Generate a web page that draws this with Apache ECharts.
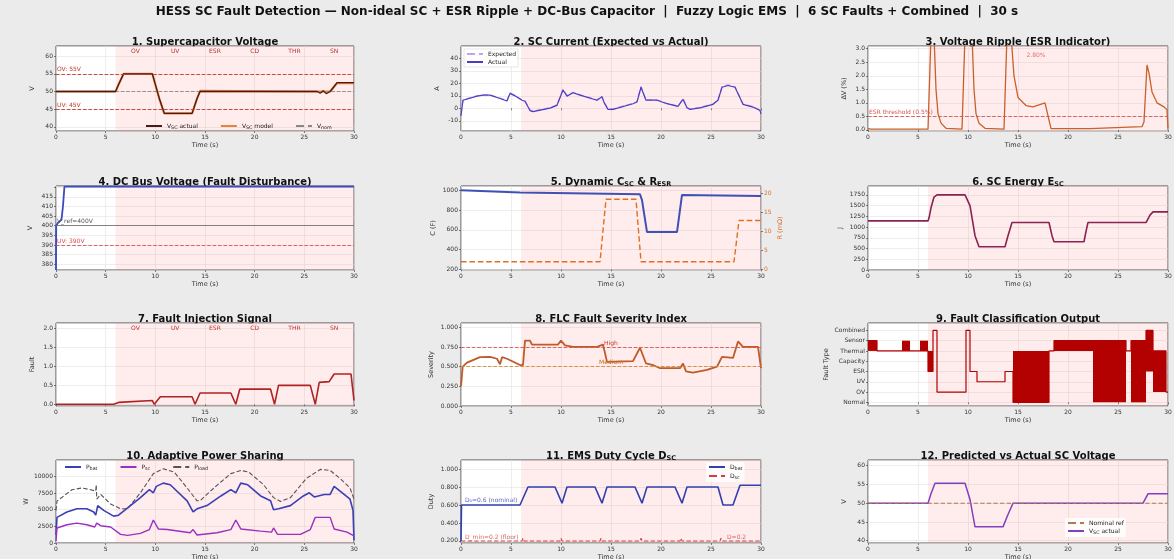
<!DOCTYPE html>
<html>
<head>
<meta charset="utf-8">
<script src="https://cdn.jsdelivr.net/npm/echarts@6/dist/echarts.min.js"></script>
<style>
html, body { margin: 0; background: #ebebeb; }
#chart { width: 1174px; height: 559px; }
</style>
</head>
<body>
<div id="chart"></div>
<script>
// ---- shared
const faultStart = 6
const tEnd = 30
const faultTimes = [8, 12, 16, 20, 24, 28]
const faultNames = ['OV', 'UV', 'ESR', 'CD', 'THR', 'SN']

// ---- 1. SC voltage
const t1 = [0, 6, 6.3, 6.8, 9.7, 10.4, 10.9, 13.7, 14.2, 14.5, 26.3, 26.6, 26.9, 27.2, 27.6, 28.3, 30]
const v1Actual = [50, 50, 52, 55, 55, 48, 43.8, 43.8, 48, 50, 50, 49.5, 50.2, 49.4, 50, 52.5, 52.5]
const v1Model = [50, 50, 52, 55, 55, 48, 43.8, 43.8, 48, 50.2, 50, 50, 50, 50, 50, 52.4, 52.4]
const vNom = 50, vOV = 55, vUV = 45

// ---- 2. SC current
const t2 = [0, 0.2, 1.6, 2.2, 2.9, 3.9, 4.6, 4.9, 5.4, 6.1, 6.4, 6.9, 7.2, 8.9, 9.6, 10.2, 10.6, 11.2, 11.9, 13.6, 14.1, 14.3, 14.7, 15.2, 17.2, 17.6, 18.0, 18.5, 19.6, 20.6, 21.7, 22.2, 22.6, 22.9, 23.9, 25.2, 25.7, 26.1, 26.7, 27.4, 28.2, 29.2, 29.9, 30]
const i2Actual = [-6, 6.5, 9.8, 10.6, 10.6, 7.9, 5.9, 12, 10, 6.5, 5.7, -1.8, -2.6, 0.2, 2.4, 14.7, 9.8, 12.5, 10.6, 6.5, 9.2, 4.8, -0.9, -0.9, 3.7, 5.1, 16.9, 6.5, 6.5, 3.7, 1.5, 7.3, 0.4, -0.9, 0.4, 3.2, 6.5, 16.9, 18.3, 16.9, 3.2, 1, -1.8, -4.5]
const i2Expected = [-4, 6.8, 10, 10.8, 10.8, 8.2, 6.2, 12.4, 10.3, 6.8, 6, -1.5, -2.2, 0.5, 2.7, 15.2, 10.2, 12.8, 10.9, 6.8, 9.6, 5.1, -0.6, -0.6, 4, 5.4, 17.5, 6.8, 6.8, 4, 1.8, 7.7, 0.7, -0.6, 0.7, 3.5, 6.8, 17.4, 18.8, 17.4, 3.5, 1.3, -1.5, -4]

// ---- 3. voltage ripple
const t3 = [0, 0.1, 0.3, 6.0, 6.1, 6.3, 6.6, 6.8, 7.0, 7.3, 7.8, 9.4, 9.5, 9.7, 10.4, 10.6, 10.8, 11.1, 11.7, 13.6, 13.7, 13.9, 14.3, 14.6, 15.0, 15.8, 16.5, 17.7, 18.3, 22.2, 22.4, 27.4, 27.6, 27.9, 28.1, 28.4, 28.9, 29.6, 29.9, 30]
const r3 = [0.05, 0.08, 0.03, 0.03, 0.05, 3.5, 3.5, 1.5, 0.6, 0.25, 0.06, 0.03, 0.05, 3.5, 3.5, 1.5, 0.6, 0.25, 0.06, 0.03, 0.05, 3.5, 3.5, 2.0, 1.2, 0.9, 0.85, 1.0, 0.05, 0.05, 0.12, 0.12, 0.3, 2.4, 2.1, 1.4, 1.0, 0.85, 0.75, 0.05]
const esrThreshold = 0.5
const p3NoteT = [16.8], p3NoteV = [2.75], p3NoteText = ['2.80%']

// ---- 4. DC bus
const t4 = [0, 0.02, 0.2, 0.4, 0.55, 0.7, 0.85, 30]
const v4 = [377, 400, 401.5, 402, 403, 410, 420.3, 420.3]
const busNom = 400, busUV = 390

// ---- 5. C and R
const t5C = [0, 5.9, 17.9, 18.1, 18.6, 21.6, 22.1, 30]
const c5 = [1000, 977, 960, 900, 577, 577, 953, 943]
const t5R = [0, 13.9, 14.5, 17.5, 18.0, 27.3, 27.8, 30]
const r5 = [2.0, 2.0, 18.5, 18.5, 2.0, 2.0, 12.9, 12.9]

// ---- 6. energy
const t6 = [0, 6.0, 6.1, 6.3, 6.6, 6.9, 9.7, 10.2, 10.7, 11.1, 13.7, 14.0, 14.4, 18.1, 18.4, 18.6, 21.6, 21.8, 22.0, 27.8, 28.2, 28.5, 30]
const e6 = [1145, 1145, 1210, 1450, 1700, 1750, 1750, 1500, 800, 542, 542, 800, 1107, 1107, 800, 658, 658, 900, 1107, 1107, 1280, 1355, 1355]

// ---- 7. fault injection
const t7 = [0, 5.8, 6.3, 6.5, 9.7, 9.9, 10.5, 13.7, 14.0, 14.5, 17.6, 18.1, 18.5, 21.6, 22.0, 22.4, 25.6, 26.1, 26.5, 27.5, 28.0, 29.7, 30]
const f7 = [0, 0, 0.05, 0.1, 0.1, 0, 0.2, 0.2, 0, 0.3, 0.3, 0, 0.4, 0.4, 0, 0.5, 0.5, 0, 0.58, 0.6, 0.8, 0.8, 0.1]

// ---- 8. FLC severity
const t8 = [0, 0.17, 0.6, 1.9, 2.9, 3.6, 3.9, 4.1, 4.6, 5.9, 6.2, 6.4, 6.9, 7.1, 9.7, 10.0, 10.4, 11.2, 13.6, 14.2, 14.6, 17.2, 17.9, 18.5, 19.2, 19.9, 21.9, 22.2, 22.5, 23.2, 24.6, 25.6, 26.1, 27.2, 27.7, 28.2, 29.7, 30]
const s8 = [0.25, 0.5, 0.55, 0.62, 0.625, 0.6, 0.53, 0.62, 0.6, 0.52, 0.52, 0.83, 0.83, 0.78, 0.78, 0.83, 0.77, 0.75, 0.75, 0.78, 0.56, 0.57, 0.74, 0.54, 0.52, 0.48, 0.48, 0.54, 0.44, 0.425, 0.46, 0.5, 0.625, 0.61, 0.82, 0.75, 0.75, 0.48]
const sevHigh = 0.75, sevMed = 0.5

// ---- 9. classification
const classNames = ['Normal', 'OV', 'UV', 'ESR', 'Capacity', 'Thermal', 'Sensor', 'Combined']
const clsTime = [0, 0.9, 6.0, 6.5, 6.9, 9.8, 10.2, 10.9, 13.7, 14.5, 18.1, 18.6, 25.8, 26.3, 27.8, 28.5, 29.8, 30]
const clsCode = [6, 5, 3, 7, 1, 7, 3, 2, 3, 0, 5, 6, 5, 6, 7, 5, 1, 1]
const blkStart = [0, 3.4, 5.2, 6.0, 14.5, 18.6, 22.5, 26.3, 27.8, 28.5]
const blkEnd = [0.9, 4.2, 6.0, 6.5, 18.1, 25.8, 25.8, 27.8, 28.5, 29.8]
const blkLow = [5, 5, 5, 3, 0, 5, 0, 0, 3, 1]
const blkHigh = [6, 6, 6, 5, 5, 6, 5, 6, 7, 5]

// ---- 10. power sharing
const t10b = [0, 0.1, 1.1, 2.1, 3.1, 3.8, 4.0, 4.2, 4.8, 5.8, 6.3, 8.5, 9.4, 9.8, 10.1, 10.8, 11.5, 13.2, 13.8, 14.2, 15.2, 16.6, 17.6, 18.1, 18.6, 19.3, 20.6, 21.6, 21.9, 22.4, 23.6, 24.9, 25.5, 26.0, 27.0, 27.6, 28.0, 28.6, 29.6, 29.9, 30]
const pBat = [1200, 3850, 4660, 5140, 5140, 4660, 4180, 5620, 4900, 4040, 4180, 6830, 8030, 7550, 8510, 9000, 8750, 6340, 4660, 5140, 5620, 7070, 8030, 7550, 9000, 8750, 7070, 6340, 5000, 5140, 5620, 7070, 7550, 6920, 7300, 7300, 8510, 7790, 6580, 4900, 400]
const t10s = [0, 0.1, 1.1, 2.1, 3.1, 3.9, 4.1, 4.5, 5.5, 6.5, 7.2, 8.5, 9.4, 9.8, 10.3, 11.2, 13.5, 13.8, 14.2, 16.2, 17.6, 18.1, 18.6, 20.6, 21.7, 21.9, 22.3, 24.6, 25.6, 26.1, 27.6, 28.0, 29.3, 30]
const pSc = [300, 2260, 2740, 2980, 2740, 2400, 2980, 2600, 2400, 1300, 1150, 1440, 2020, 3460, 2110, 2020, 1540, 2020, 1200, 1540, 2020, 3460, 2110, 1780, 1630, 2260, 1300, 1300, 2020, 3850, 3850, 2110, 1630, 1060]
const t10l = [0, 0.1, 1.6, 2.6, 3.5, 4.0, 4.05, 4.1, 4.5, 5.5, 6.5, 7.2, 8.5, 9.8, 10.8, 11.9, 13.2, 14.2, 14.5, 15.9, 17.6, 18.6, 19.4, 20.9, 21.9, 22.6, 23.6, 25.2, 26.6, 27.6, 28.6, 29.6, 30]
const pLoad = [4900, 6300, 8000, 8270, 8000, 7800, 8750, 6600, 7300, 5860, 5140, 5140, 7550, 10430, 11150, 10670, 8270, 6340, 6340, 8270, 10430, 10900, 10670, 8750, 6820, 6250, 6820, 9700, 11060, 10900, 9700, 8270, 6580]

// ---- 11. duty cycle
const t11b = [0, 0.05, 5.9, 6.7, 9.4, 10.1, 10.6, 13.4, 14.1, 14.6, 17.4, 18.1, 18.6, 21.4, 22.1, 22.6, 25.7, 26.2, 27.2, 27.9, 30]
const dBat = [0.2, 0.6, 0.6, 0.8, 0.8, 0.62, 0.8, 0.8, 0.62, 0.8, 0.8, 0.62, 0.8, 0.8, 0.62, 0.8, 0.8, 0.6, 0.6, 0.82, 0.82]
const t11s = [0, 6.1, 6.2, 6.3, 9.9, 10.0, 10.1, 13.9, 14.0, 14.1, 17.9, 18.0, 18.1, 21.9, 22.0, 22.1, 25.9, 26.0, 26.1, 30]
const dSc = [0.2, 0.2, 0.23, 0.2, 0.2, 0.23, 0.2, 0.2, 0.23, 0.2, 0.2, 0.23, 0.2, 0.2, 0.23, 0.2, 0.2, 0.23, 0.2, 0.2]
const p11BatNoteT = [0.4], p11BatNoteV = [0.645], p11BatNote = ['D\u2080=0.6 (nominal)']
const p11ScNoteT = [0.4, 26.6], p11ScNoteV = [0.235, 0.235], p11ScNote = ['D_min=0.2 (floor)', 'D=0.2']

// ---- 12. predicted vs actual
const t12 = [0, 6.0, 6.3, 6.7, 9.7, 10.2, 10.7, 13.5, 14.0, 14.5, 27.5, 27.8, 28.0, 30]
const v12 = [50, 50, 52.5, 55.3, 55.3, 51, 43.7, 43.7, 47, 50, 50, 51.5, 52.5, 52.5]

const titles = [
  '1. Supercapacitor Voltage',
  '2. SC Current (Expected vs Actual)',
  '3. Voltage Ripple (ESR Indicator)',
  '4. DC Bus Voltage (Fault Disturbance)',
  '5. Dynamic C{s|SC} & R{s|ESR}',
  '6. SC Energy E{s|SC}',
  '7. Fault Injection Signal',
  '8. FLC Fault Severity Index',
  '9. Fault Classification Output',
  '10. Adaptive Power Sharing',
  '11. EMS Duty Cycle D{s|SC}',
  '12. Predicted vs Actual SC Voltage'
]

// ---- layout
const FONT = 'DejaVu Sans'
const colsL = [56, 461, 868], colsW = [298, 300, 300]
const rowsT = [46, 186, 323, 460], rowsH = [85, 84, 83, 83]
const PINK = 'rgba(255, 110, 110, 0.13)'

const zip = (xs, ys) => xs.map((x, i) => [x, ys[i]])
const subFmt = n => n.replace(/_(\w+)/, '{s|$1}')
const rich = { s: { fontSize: 4.8, verticalAlign: 'bottom', padding: [3, 0, 0, 0], fontFamily: FONT } }

const grids = [], xAxes = [], yAxes = [], series = [], graphics = []

for (let i = 0; i < 12; i++) {
  const r = Math.floor(i / 3), c = i % 3
  grids.push({
    left: colsL[c], top: rowsT[r], width: colsW[c], height: rowsH[r],
    show: true, backgroundColor: '#fff', borderColor: '#222', borderWidth: 0.8,
    containLabel: false, outerBoundsMode: 'none'
  })
  xAxes.push({
    type: 'value', gridIndex: i, min: 0, max: tEnd, interval: 5,
    name: 'Time (s)', nameLocation: 'middle', nameGap: 11,
    nameTextStyle: { fontSize: 6.5, color: '#333', fontFamily: FONT },
    axisLine: { show: false },
    axisTick: { length: 2, lineStyle: { color: '#333', width: 0.6 } },
    axisLabel: { fontSize: 6, color: '#333', margin: 3, fontFamily: FONT },
    splitLine: { lineStyle: { color: '#e2e2e2', width: 0.6 } }
  })
  graphics.push({
    type: 'text', x: colsL[c] + colsW[c] / 2, y: rowsT[r] - 4,
    style: {
      text: titles[i], textAlign: 'center', textVerticalAlign: 'middle',
      font: 'bold 10px "DejaVu Sans"', fill: '#111',
      rich: { s: { font: 'bold 6.5px "DejaVu Sans"', verticalAlign: 'bottom', padding: [4, 0, 0, 0] } }
    }
  })
}

function yAx(i, o, lab) {
  return Object.assign({
    type: 'value', gridIndex: i, nameLocation: 'middle', nameGap: 20,
    nameTextStyle: { fontSize: 6.5, color: '#333', fontFamily: FONT },
    axisLine: { show: false },
    axisTick: { length: 2, lineStyle: { color: '#333', width: 0.6 } },
    axisLabel: Object.assign({ fontSize: 6, color: '#333', margin: 3, fontFamily: FONT, showMinLabel: false, showMaxLabel: false, formatter: v => String(v) }, lab || {}),
    splitLine: { lineStyle: { color: '#e2e2e2', width: 0.6 } }
  }, o)
}

yAxes.push(yAx(0, { min: 38.8, max: 62.9, splitNumber: 5, name: 'V' }))
yAxes.push(yAx(1, { min: -18.2, max: 50, splitNumber: 7, name: 'A' }))
yAxes.push(yAx(2, { min: -0.04, max: 3.1, splitNumber: 6, name: '\u0394V (%)' }, { formatter: v => v.toFixed(1) }))
yAxes.push(yAx(3, { min: 377, max: 420.6, splitNumber: 8, name: 'V', nameGap: 22 }, { formatter: v => (v > 415 ? '' : String(v)) }))
yAxes.push(yAx(4, { min: 193, max: 1043, splitNumber: 5, name: 'C (F)', nameGap: 24 }))
yAxes.push(yAx(5, { min: 0, max: 1958, interval: 250, name: 'J', nameGap: 24 }, { showMinLabel: true }))
yAxes.push(yAx(6, { min: -0.045, max: 2.15, splitNumber: 5, name: 'Fault' }, { formatter: v => v.toFixed(1) }))
yAxes.push(yAx(7, { min: 0, max: 1.054, interval: 0.25, name: 'Severity', nameGap: 26 }, { showMinLabel: true, formatter: v => v.toFixed(3) }))
yAxes.push(yAx(8, { min: -0.36, max: 7.72, splitNumber: 8, name: 'Fault Type', nameGap: 38 }, { formatter: v => (Number.isInteger(v) ? classNames[v] || '' : '') }))
yAxes.push(yAx(9, { min: 0, max: 12475, interval: 2500, name: 'W', nameGap: 26 }, { showMinLabel: true }))
yAxes.push(yAx(10, { min: 0.177, max: 1.1, splitNumber: 5, name: 'Duty', nameGap: 26 }, { formatter: v => v.toFixed(3) }))
yAxes.push(yAx(11, { min: 39.4, max: 61.5, splitNumber: 5, name: 'V' }))
// right axis for R_ESR (index 12)
yAxes.push(yAx(4, {
  min: -0.17, max: 22, splitNumber: 5, name: 'R (m\u03A9)', position: 'right', nameGap: 16,
  nameTextStyle: { fontSize: 6.5, color: '#d9702a', fontFamily: FONT },
  splitLine: { show: false }
}, { color: '#d9702a' }))

const shade = () => ({
  silent: true, itemStyle: { color: PINK },
  data: [[{ xAxis: faultStart }, { xAxis: tEnd }]]
})

function line(i, name, xs, ys, color, width, type, extra) {
  return Object.assign({
    type: 'line', name, xAxisIndex: i, yAxisIndex: i, data: zip(xs, ys),
    showSymbol: false, symbol: 'none', animation: false, z: 3,
    lineStyle: { color, width, type: type || 'solid' }, itemStyle: { color }
  }, extra || {})
}

function hLine(v, name, color, pos, type) {
  return {
    symbol: 'none', silent: true, animation: false,
    lineStyle: { color, width: 0.9, type: type || 'dashed' },
    label: { show: !!name, formatter: name || '', position: pos || 'insideStartTop', fontSize: 6, color, fontFamily: FONT, distance: 1 },
    data: [{ yAxis: v }]
  }
}

function notes(i, xs, ys, texts, color, pos) {
  return {
    type: 'scatter', xAxisIndex: i, yAxisIndex: i,
    data: zip(xs, ys), symbolSize: 0, silent: true, animation: false, z: 5,
    label: { show: true, position: pos || 'inside', distance: 0, formatter: p => texts[p.dataIndex], fontSize: 6, color, fontFamily: FONT }
  }
}

// 1
series.push(line(0, 'V_SC model', t1, v1Model, '#e8833a', 2.2, 'solid', { markArea: shade() }))
series.push(line(0, 'V_SC actual', t1, v1Actual, '#4a1a1a', 1.3, 'solid', {
  markLine: { symbol: 'none', silent: true, animation: false, data: [
    { yAxis: vOV, lineStyle: { color: '#c0392b', width: 0.9, type: 'dashed' }, label: { formatter: 'OV: 55V', color: '#c0392b' } },
    { yAxis: vUV, lineStyle: { color: '#c0392b', width: 0.9, type: 'dashed' }, label: { formatter: 'UV: 45V', color: '#c0392b' } }
  ], label: { position: 'insideStartTop', fontSize: 6, fontFamily: FONT, distance: 1 } }
}))
series.push(line(0, 'V_nom', [0, tEnd], [vNom, vNom], '#888', 0.9, 'dashed', { z: 2 }))
series.push(notes(0, faultTimes, faultTimes.map(() => 61.3), faultNames, '#a00000'))

// 2
series.push(line(1, 'Expected', t2, i2Expected, '#c9a0e8', 1.4, 'dashed', { markArea: shade() }))
series.push(line(1, 'Actual', t2, i2Actual, '#4a3fc4', 1.2))

// 3
series.push(line(2, 'Ripple', t3, r3, '#c8602a', 1.3, 'solid', {
  markArea: shade(),
  markLine: hLine(esrThreshold, 'ESR threshold (0.5%)', '#d9534f')
}))
series.push(notes(2, p3NoteT, p3NoteV, p3NoteText, '#d9534f'))

// 4
series.push(line(3, 'V_bus', t4, v4, '#3b4cc0', 1.8, 'solid', {
  markArea: shade(),
  markLine: { symbol: 'none', silent: true, animation: false, data: [
    { yAxis: busNom, lineStyle: { color: '#666', width: 0.8, type: 'solid' }, label: { formatter: 'V_ref=400V', color: '#555' } },
    { yAxis: busUV, lineStyle: { color: '#d9534f', width: 0.9, type: 'dashed' }, label: { formatter: 'UV: 390V', color: '#d9534f' } }
  ], label: { position: 'insideStartTop', fontSize: 6, fontFamily: FONT, distance: 1 } }
}))

// 5
series.push(line(4, 'C_SC', t5C, c5, '#3f51b5', 2, 'solid', { markArea: shade() }))
series.push(line(4, 'R_ESR', t5R, r5, '#e07020', 1.4, 'dashed', { yAxisIndex: 12 }))

// 6
series.push(line(5, 'E_SC', t6, e6, '#8b2252', 1.6, 'solid', { markArea: shade() }))

// 7
series.push(line(6, 'Fault signal', t7, f7, '#b22222', 1.6, 'solid', { markArea: shade() }))
series.push(notes(6, faultTimes, faultTimes.map(() => 2.0), faultNames, '#b00000'))

// 8
series.push(line(7, 'Severity', t8, s8, '#c05a28', 1.8, 'solid', {
  markArea: shade(),
  markLine: { symbol: 'none', silent: true, animation: false, data: [
    { yAxis: sevHigh, lineStyle: { color: '#d9534f', width: 0.9, type: 'dashed' }, label: { formatter: 'High', color: '#c0392b' } },
    { yAxis: sevMed, lineStyle: { color: '#d08a3a', width: 0.9, type: 'dashed' }, label: { formatter: 'Medium', color: '#c07020' } }
  ], label: { position: 'insideMiddleTop', fontSize: 6, fontFamily: FONT, distance: 1 } }
}))

// 9
series.push(line(8, 'Class', clsTime, clsCode, '#b30000', 1.2, 'solid', { step: 'end', markArea: shade() }))
series.push({
  type: 'custom', xAxisIndex: 8, yAxisIndex: 8, animation: false, silent: true, z: 4,
  data: blkStart.map((s, k) => [s, blkEnd[k], blkLow[k], blkHigh[k]]),
  encode: { x: [0, 1], y: [2, 3] },
  renderItem: (params, api) => {
    const p0 = api.coord([api.value(0), api.value(3)])
    const p1 = api.coord([api.value(1), api.value(2)])
    return { type: 'rect', shape: { x: p0[0], y: p0[1], width: p1[0] - p0[0], height: p1[1] - p0[1] }, style: { fill: '#b30000' } }
  }
})

// 10
series.push(line(9, 'P_load', t10l, pLoad, '#555', 1.1, 'dashed', { markArea: shade() }))
series.push(line(9, 'P_bat', t10b, pBat, '#3b3fb5', 1.6))
series.push(line(9, 'P_sc', t10s, pSc, '#9b30c0', 1.4))

// 11
series.push(line(10, 'D_bat', t11b, dBat, '#3040b0', 1.6, 'solid', { markArea: shade() }))
series.push(line(10, 'D_sc', t11s, dSc, '#d04040', 1.1, 'dashed'))
series.push(notes(10, p11BatNoteT, p11BatNoteV, p11BatNote, '#3040b0', 'right'))
series.push(notes(10, p11ScNoteT, p11ScNoteV, p11ScNote, '#d04040', 'right'))

// 12
series.push(line(11, 'Nominal ref', [0, tEnd], [vNom, vNom], '#b07a50', 1.1, 'dashed', { markArea: shade(), z: 4 }))
series.push(line(11, 'V_SC actual\u200b', t12, v12, '#8040c0', 1.5))

const legBase = {
  itemWidth: 16, itemHeight: 6, padding: 2,
  itemStyle: { opacity: 0 },
  textStyle: { fontSize: 6, color: '#222', fontFamily: FONT, rich },
  formatter: subFmt, selectedMode: false
}
const legends = [
  Object.assign({}, legBase, { data: ['V_SC actual', 'V_SC model', 'V_nom'], left: 143, top: 121, orient: 'horizontal', itemGap: 22 }),
  Object.assign({}, legBase, { data: ['Expected', 'Actual'], left: 464, top: 49, orient: 'vertical', itemGap: 2, backgroundColor: 'rgba(255,255,255,0.85)', borderColor: '#ccc', borderWidth: 0.5 }),
  Object.assign({}, legBase, { data: ['P_bat', 'P_sc', 'P_load'], left: 62, top: 462, orient: 'horizontal', itemGap: 22 }),
  Object.assign({}, legBase, { data: ['D_bat', 'D_sc'], left: 706, top: 462, orient: 'vertical', itemGap: 2, backgroundColor: 'rgba(255,255,255,0.85)' }),
  Object.assign({}, legBase, { data: ['Nominal ref', 'V_SC actual\u200b'], left: 1065, top: 518, orient: 'vertical', itemGap: 2, backgroundColor: 'rgba(255,255,255,0.85)' })
]

graphics.push({
  type: 'text', x: 587, y: 12,
  style: {
    text: 'HESS SC Fault Detection \u2014 Non-ideal SC + ESR Ripple + DC-Bus Capacitor  |  Fuzzy Logic EMS  |  6 SC Faults + Combined  |  30 s',
    textAlign: 'center', textVerticalAlign: 'middle', font: 'bold 12px "DejaVu Sans"', fill: '#111'
  }
})

const chart = echarts.init(document.getElementById('chart'), null, { renderer: 'canvas' })
chart.setOption({
  backgroundColor: '#ebebeb',
  animation: false,
  textStyle: { fontFamily: FONT },
  grid: grids,
  xAxis: xAxes,
  yAxis: yAxes,
  legend: legends,
  graphic: graphics,
  series
})
window.addEventListener('resize', () => chart.resize())
</script>
</body>
</html>
